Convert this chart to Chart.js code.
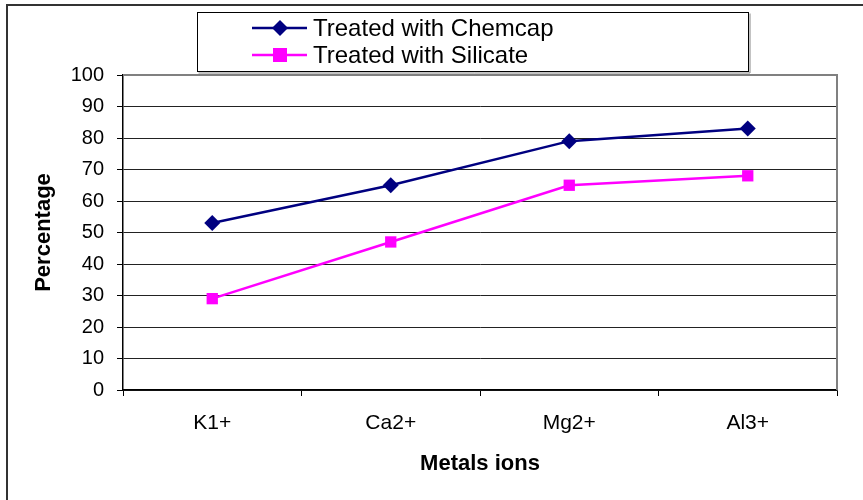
<!DOCTYPE html>
<html>
<head>
<meta charset="utf-8">
<script src="https://cdn.jsdelivr.net/npm/chart.js@4.4.0/dist/chart.umd.min.js"></script>
<style>
html,body{margin:0;padding:0;background:#fff;}
#wrap{position:relative;width:863px;height:500px;}
</style>
</head>
<body>
<div id="wrap"><canvas id="c" width="863" height="500"></canvas></div>
<script>
const categories = ['K1+', 'Ca2+', 'Mg2+', 'Al3+'];
const chemcap = [53, 65, 79, 83];
const silicate = [29, 47, 65, 68];
const seriesNames = ['Treated with Chemcap', 'Treated with Silicate'];
const yTitle = 'Percentage';
const xTitle = 'Metals ions';

const FONT = "'Liberation Sans', Arial, Helvetica, sans-serif";

const framePlugin = {
  id: 'frame',
  afterDraw(chart) {
    const ctx = chart.ctx;
    const a = chart.chartArea;
    ctx.save();
    ctx.strokeStyle = '#808080';
    ctx.lineWidth = 2;
    ctx.beginPath();
    ctx.moveTo(a.left, a.top);
    ctx.lineTo(a.right, a.top);
    ctx.lineTo(a.right, a.bottom);
    ctx.stroke();
    ctx.strokeStyle = '#333';
    ctx.lineWidth = 2;
    ctx.strokeRect(7, 5, 900, 600);
    const lx = 197.5, ly = 12.5, lw = 551, lh = 59;
    ctx.fillStyle = '#fff';
    ctx.fillRect(lx, ly, lw, lh);
    ctx.strokeStyle = '#000';
    ctx.lineWidth = 1;
    ctx.strokeRect(lx, ly, lw, lh);
    ctx.strokeStyle = '#888';
    ctx.beginPath();
    ctx.moveTo(lx + 1, ly + lh + 1.5);
    ctx.lineTo(lx + lw + 1.5, ly + lh + 1.5);
    ctx.lineTo(lx + lw + 1.5, ly + 1);
    ctx.stroke();
    const rows = [28, 55];
    chart.data.datasets.forEach((ds, i) => {
      const y = rows[i];
      ctx.strokeStyle = ds.borderColor;
      ctx.lineWidth = ds.borderWidth;
      ctx.beginPath();
      ctx.moveTo(252, y);
      ctx.lineTo(307, y);
      ctx.stroke();
      ctx.fillStyle = ds.pointBackgroundColor;
      const cx = 280, r = 8;
      if (ds.pointStyle === 'rectRot') {
        ctx.beginPath();
        ctx.moveTo(cx, y - r); ctx.lineTo(cx + r, y); ctx.lineTo(cx, y + r); ctx.lineTo(cx - r, y);
        ctx.closePath(); ctx.fill();
      } else {
        ctx.fillRect(cx - 7, y - 7, 14, 14);
      }
      ctx.fillStyle = '#000';
      ctx.font = '24px ' + FONT;
      ctx.textBaseline = 'middle';
      ctx.textAlign = 'left';
      ctx.fillText(ds.label, 313, y + 1);
    });
    ctx.restore();
  }
};

new Chart(document.getElementById('c'), {
  type: 'line',
  data: {
    labels: categories,
    datasets: [
      {
        label: seriesNames[0], data: chemcap,
        borderColor: '#000080', backgroundColor: '#000080',
        pointBackgroundColor: '#000080', pointBorderColor: '#000080',
        pointStyle: 'rectRot', pointRadius: 8, pointBorderWidth: 0,
        borderWidth: 2.5, tension: 0
      },
      {
        label: seriesNames[1], data: silicate,
        borderColor: '#FF00FF', backgroundColor: '#FF00FF',
        pointBackgroundColor: '#FF00FF', pointBorderColor: '#FF00FF',
        pointStyle: 'rect', pointRadius: 8, pointBorderWidth: 0,
        borderWidth: 2.5, tension: 0
      }
    ]
  },
  options: {
    responsive: false,
    animation: false,
    devicePixelRatio: 1,
    layout: { padding: { left: 0, top: 75, right: 26, bottom: 0 } },
    plugins: { legend: { display: false }, tooltip: { enabled: false } },
    scales: {
      x: {
        offset: true,
        grid: { display: true, offset: true, drawOnChartArea: false, drawTicks: true, tickLength: 6, color: '#000', lineWidth: 1 },
        border: { display: true, color: '#000', width: 1.5 },
        ticks: { color: '#000', font: { family: FONT, size: 21 }, padding: 15, maxRotation: 0 },
        title: { display: true, text: xTitle, color: '#000', font: { family: FONT, size: 22, weight: 'bold' }, padding: { top: 0, bottom: 23 } },
        afterFit(s) { s.height = 110; }
      },
      y: {
        min: 0, max: 100,
        ticks: { stepSize: 10, color: '#000', font: { family: FONT, size: 20 }, padding: 13 },
        grid: { color: '#222', lineWidth: 1, drawTicks: true, tickLength: 6, tickColor: '#000' },
        border: { display: true, color: '#000', width: 1.5 },
        title: { display: true, text: yTitle, color: '#000', font: { family: FONT, size: 22, weight: 'bold' }, padding: { top: 31, bottom: 0 } },
        afterFit(s) { s.width = 123; }
      }
    }
  },
  plugins: [framePlugin]
});
</script>
</body>
</html>
